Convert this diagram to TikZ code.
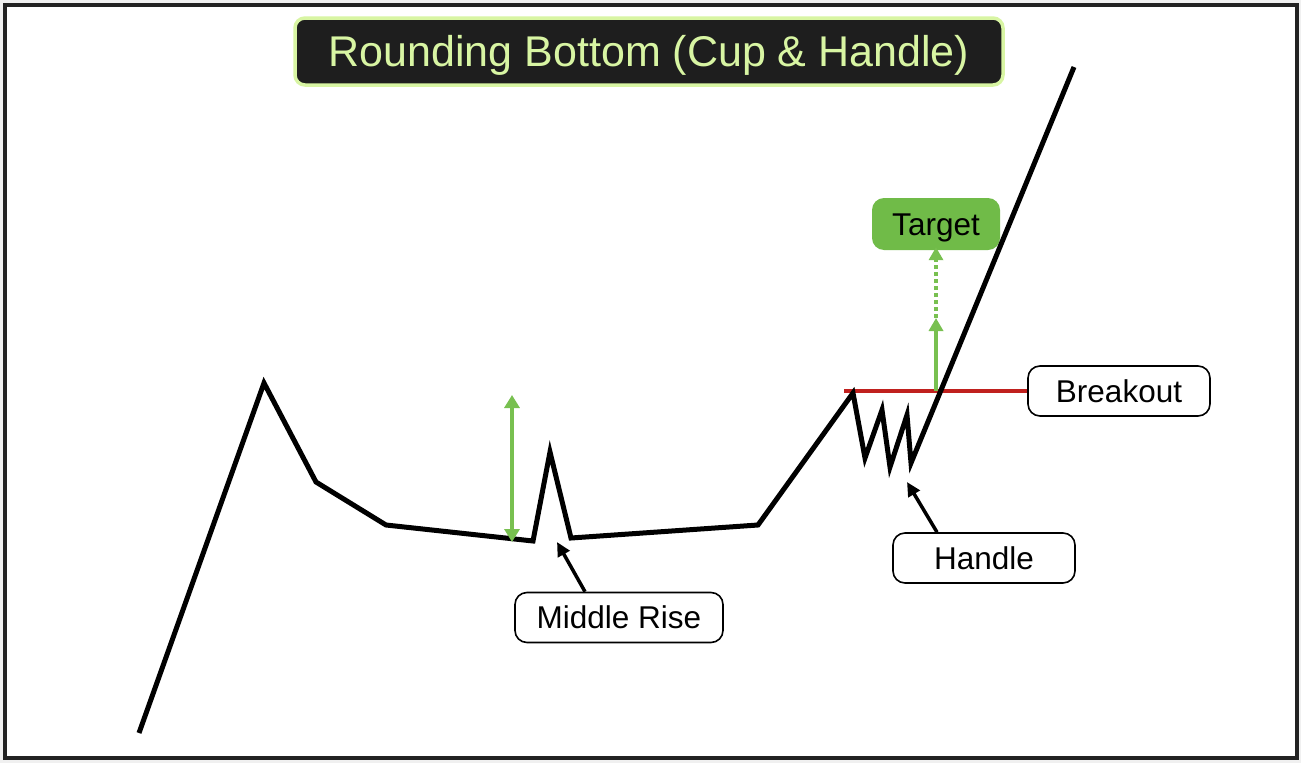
\documentclass[tikz,border=0pt]{standalone}
\usepackage{fontspec}
\setmainfont{Liberation Sans}
\usetikzlibrary{arrows.meta}
\definecolor{framegray}{RGB}{34,34,34}
\definecolor{titlebg}{RGB}{30,30,30}
\definecolor{titlegreen}{RGB}{216,245,163}
\definecolor{targetgreen}{RGB}{112,187,72}
\definecolor{arrowgreen}{RGB}{120,192,80}
\definecolor{breakred}{RGB}{192,32,30}
\tikzset{
  labeltext/.style={font=\fontsize{31.5}{36}\selectfont, text height=22.6pt, text depth=0pt, inner sep=0pt},
  labelbox/.style={labeltext, draw=black, line width=1.6pt, fill=white, rounded corners=12pt,
    minimum height=50pt},
  price/.style={line width=5pt, line join=miter},
  pointer/.style={line width=3.5pt, -{Triangle[length=14pt,width=13pt]}},
  rise/.style={draw=arrowgreen, line width=4pt}
}
\begin{document}
\begin{tikzpicture}[x=1pt,y=-1pt]
    % Background and frame
    \fill[gray!12] (0,0) rectangle (1301,763);
    \draw[line width=4pt, draw=framegray, fill=white] (5,5) rectangle (1296.5,757.5);
    \useasboundingbox (0,0) rectangle (1301,763);
    % Title
    \node[draw=titlegreen, line width=3.5pt, fill=titlebg, rounded corners=10pt,
      minimum width=708pt, minimum height=67pt, inner sep=0pt, text height=30.8pt, text depth=0pt,
      text=titlegreen, font=\fontsize{43}{50}\selectfont] (title) at (649,51.5)
      {Rounding Bottom (Cup \& Handle)};
    % Labels
    \node[labelbox, minimum width=182pt] (breakout) at (1119,391) {Breakout};
    \node[labelbox, minimum width=208pt] (midrise) at (619,617.5) {Middle Rise};
    \node[labelbox, minimum width=182pt] (handle) at (984,558) {Handle};
    \node[labeltext, fill=targetgreen, rounded corners=12pt, minimum width=128pt,
      minimum height=52pt] (target) at (936,224) {Target};
    % Breakout level
    \draw[draw=breakred, line width=4pt] (breakout.west) -- ++(-183,0);
    % Points of the price line
    \coordinate (lowleft) at (533,541);
    \coordinate (spike) at (550,452);
    \coordinate (handlelow) at (911,463);
    \coordinate (breakpt) at (936,391);
    % Draw the price line
    \draw[price] (139,733) -- (264,383) -- (316,482) -- (386,525) -- (lowleft)
      -- (spike) -- (571,538) -- (758,525) -- (853,393) -- (865,458) -- (882,410)
      -- (890,467) -- (907,415) -- (handlelow) -- (1074,67);
    % Depth of the cup
    \coordinate (cuptop) at (512,395);
    \coordinate (cupbottom) at (512,542);
    \draw[rise, {Triangle[length=13pt,width=15pt]}-{Triangle[length=13pt,width=15pt]}]
      (cupbottom) -- (cuptop);
    % Target projection
    \coordinate (halfway) at (936,318);
    \draw[rise, -{Triangle[length=13pt,width=14pt]}] (breakpt) -- (halfway);
    \draw[rise, dash pattern=on 4pt off 3pt, -{Triangle[length=13pt,width=14pt]}]
      (halfway) -- ([yshift=3pt]target.south);
    % Pointers to the labels
    \draw[pointer] ([xshift=-34pt]midrise.north) -- (557,542);
    \draw[pointer] ([xshift=-47pt]handle.north) -- (907,482);
\end{tikzpicture}
\end{document}
